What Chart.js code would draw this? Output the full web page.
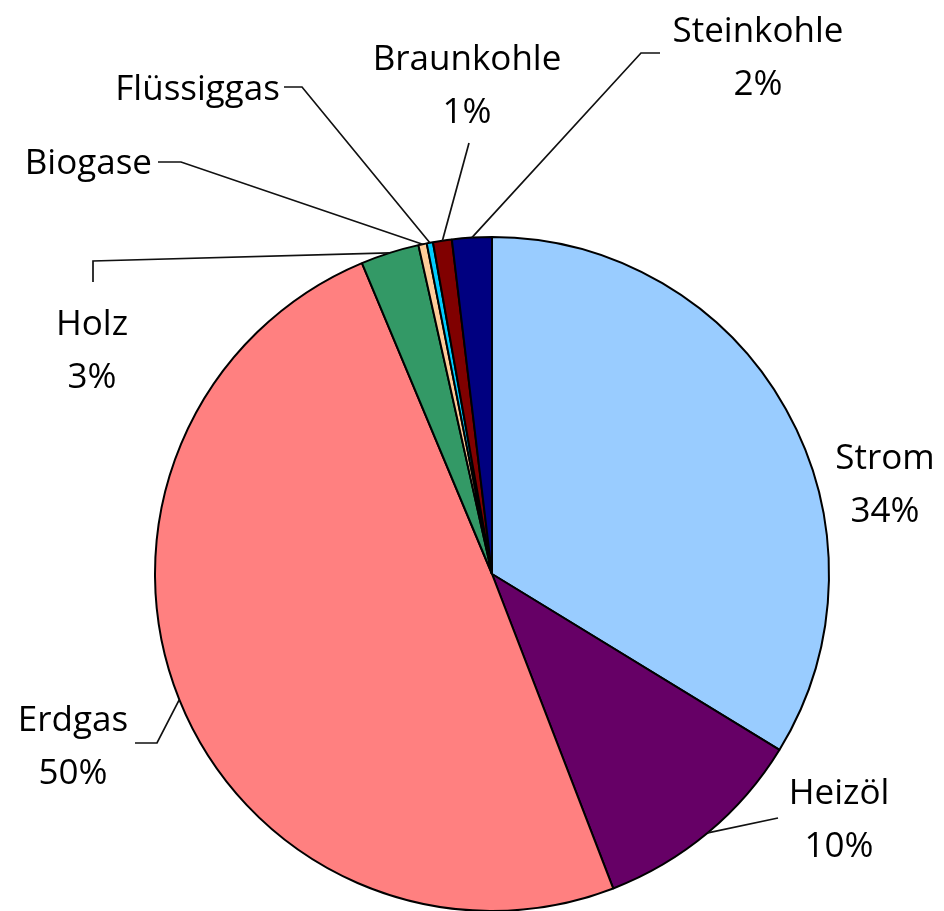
<!DOCTYPE html>
<html lang="de">
<head>
    <meta charset="UTF-8">
    <title>Energieträger</title>
    <script src="https://cdn.jsdelivr.net/npm/chart.js"></script>
    <style>
        body { margin: 0; background: #fff; }
        #wrap { position: relative; width: 944px; height: 911px; }
    </style>
</head>
<body>
    <div id="wrap"><canvas id="pieChart" width="944" height="911"></canvas></div>
    <script>
        // Anteile in Prozent, im Uhrzeigersinn ab 12 Uhr
        const categories = ['Strom', 'Heizöl', 'Erdgas', 'Holz', 'Biogase', 'Flüssiggas', 'Braunkohle', 'Steinkohle'];
        const shares = [33.7, 10.4, 49.5, 2.8, 0.4, 0.3, 0.9, 1.9];
        const colors = ['#99CCFF', '#660066', '#FF8080', '#339966', '#FFCC99', '#00CCFF', '#800000', '#000080'];

        // Beschriftung: Textmitte (x), Grundlinie der ersten Zeile (y), Knickpunkte der Führungslinie
        const labelLayout = [
            { x: 885, y: 469, align: 'center', leader: null },
            { x: 839, y: 804, align: 'center', leader: [[778, 818]] },
            { x: 73, y: 731, align: 'center', leader: [[157, 743], [135, 743]] },
            { x: 92, y: 335, align: 'center', leader: [[93, 261], [93, 282]] },
            { x: 152, y: 174, align: 'right', leader: [[181, 162], [158, 162]] },
            { x: 280, y: 100, align: 'right', leader: [[302, 87], [284, 87]] },
            { x: 467, y: 70, align: 'center', leader: [[469, 143]] },
            { x: 758, y: 42, align: 'center', leader: [[641, 53], [660, 53]] }
        ];

        const total = shares.reduce((a, b) => a + b, 0);

        const labelPlugin = {
            id: 'pieLabels',
            afterDatasetsDraw(chart) {
                const ctx = chart.ctx;
                const arcs = chart.getDatasetMeta(0).data;
                ctx.save();
                ctx.font = '35px "Open Sans", sans-serif';
                ctx.fillStyle = '#000';
                ctx.strokeStyle = '#111';
                ctx.lineWidth = 1.7;
                arcs.forEach((arc, i) => {
                    const lay = labelLayout[i];
                    const { x, y, startAngle, endAngle, outerRadius } = arc.getProps(['x', 'y', 'startAngle', 'endAngle', 'outerRadius'], true);
                    if (lay.leader) {
                        const mid = (startAngle + endAngle) / 2;
                        ctx.beginPath();
                        ctx.moveTo(x + Math.cos(mid) * outerRadius, y + Math.sin(mid) * outerRadius);
                        lay.leader.forEach(p => ctx.lineTo(p[0], p[1]));
                        ctx.stroke();
                    }
                    const pct = Math.round(shares[i] / total * 100);
                    ctx.textAlign = lay.align;
                    ctx.textBaseline = 'alphabetic';
                    ctx.fillText(categories[i], lay.x, lay.y);
                    if (pct >= 1) {
                        ctx.textAlign = 'center';
                        let cx = lay.x;
                        if (lay.align === 'right') cx = lay.x - ctx.measureText(categories[i]).width / 2;
                        ctx.fillText(pct + '%', cx, lay.y + 53);
                    }
                });
                ctx.restore();
            }
        };

        new Chart(document.getElementById('pieChart'), {
            type: 'pie',
            data: {
                labels: categories,
                datasets: [{
                    data: shares,
                    backgroundColor: colors,
                    borderColor: '#000',
                    borderWidth: 2
                }]
            },
            options: {
                responsive: false,
                animation: false,
                radius: 337,
                layout: { padding: { left: 155, right: 115, top: 237, bottom: 0 } },
                plugins: {
                    legend: { display: false },
                    tooltip: { enabled: false }
                }
            },
            plugins: [labelPlugin]
        });
    </script>
</body>
</html>
